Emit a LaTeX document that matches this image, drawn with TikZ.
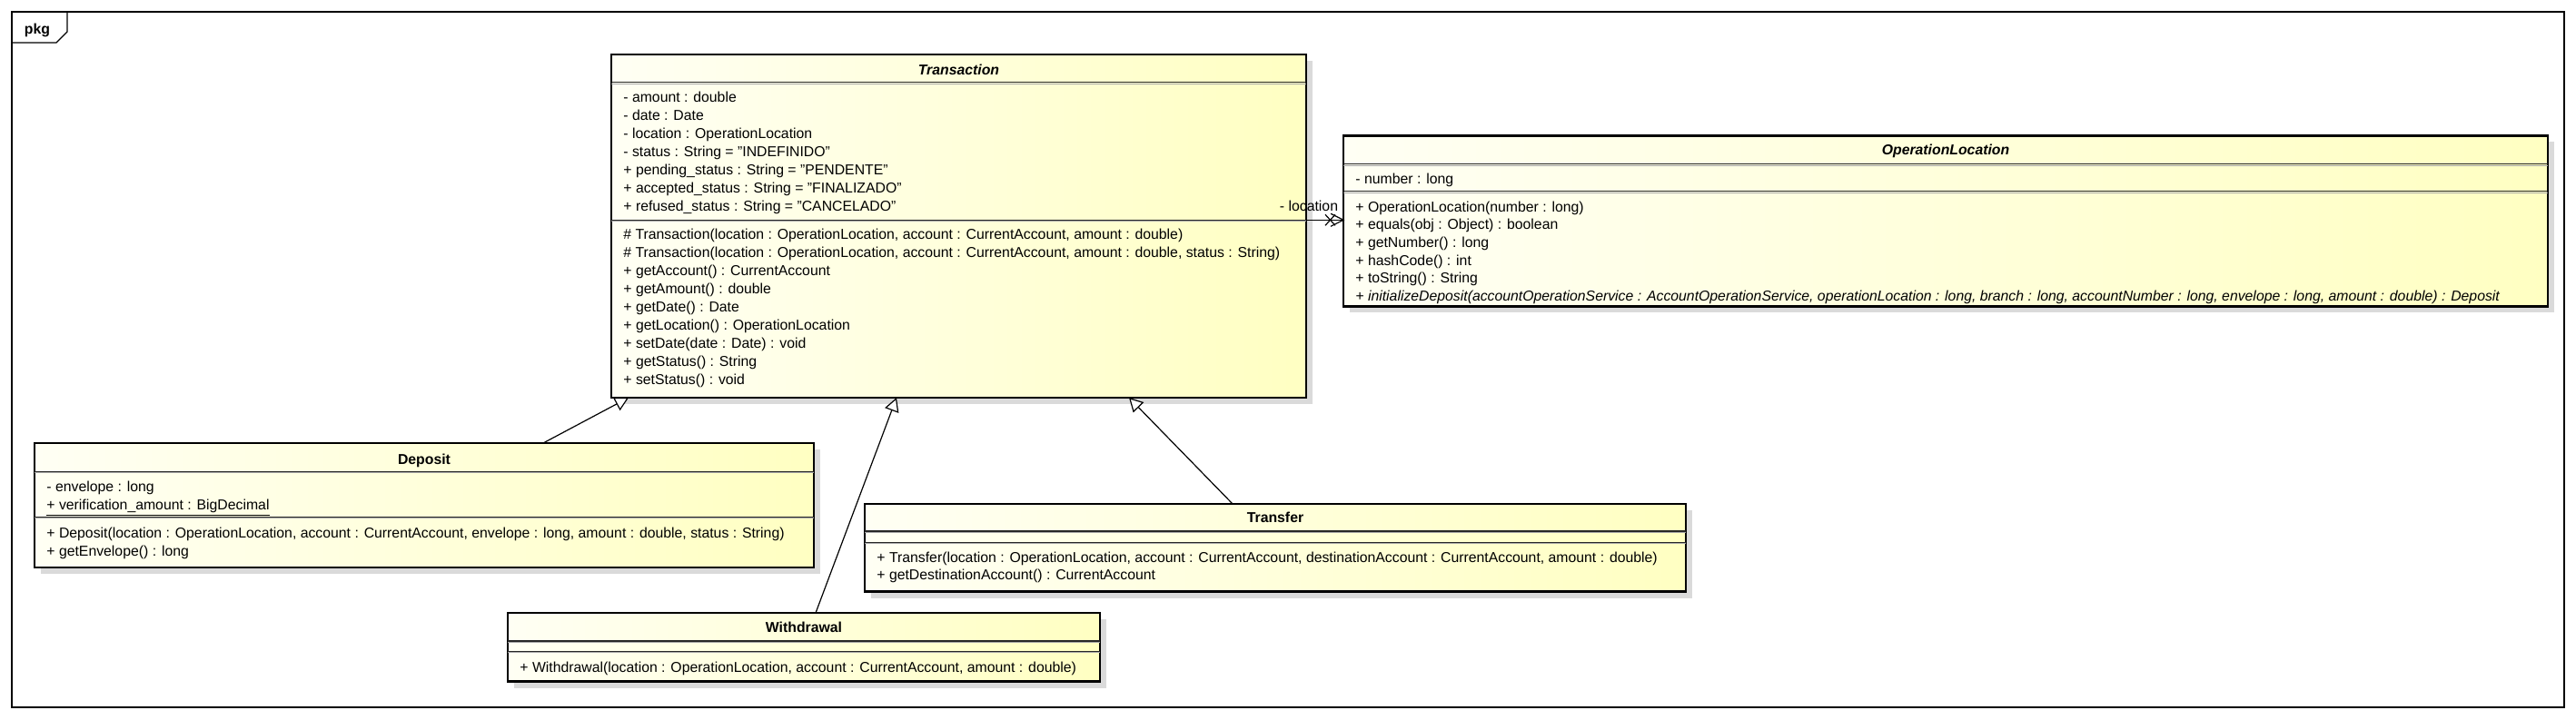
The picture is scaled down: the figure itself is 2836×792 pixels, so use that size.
\documentclass[tikz,border=0pt]{standalone}
\usepackage{fontspec}
\setmainfont{Liberation Sans}
\usetikzlibrary{arrows.meta,calc}
\definecolor{ylo}{HTML}{FFFFF4}
\definecolor{yhi}{HTML}{FFFFC2}
\definecolor{shd}{HTML}{DADADA}
\newcommand\memfont{\fontsize{7.9}{9}\selectfont}
\newcommand\umlcls[5]{%
  \fill[shd] ({#2+7},{#3+7}) rectangle ({#4+7},{#5+7});
  \node[classbox, minimum width={(#4-#2)*0.5pt}, minimum height={(#5-#3)*0.5pt}] (#1) at ({(#2+#4)/2},{(#3+#5)/2}) {};
}
\newcommand\umlsep[3]{%
  \draw[sepdark] (#1,#3) -- (#2,#3);
  \draw[seplight] (#1,{#3+1.6}) -- (#2,{#3+1.6});
}
\tikzset{
  classbox/.style={draw=black, line width=1.3pt, left color=ylo, right color=yhi, inner sep=0pt, outer sep=0pt},
  sepdark/.style={draw=black!85, line width=0.55pt},
  seplight/.style={draw=black!35, line width=0.5pt},
  mem/.style={anchor=base west, inner sep=0pt, font=\memfont},
  ttl/.style={anchor=base, inner sep=0pt, font=\memfont\bfseries},
  attl/.style={anchor=base, inner sep=0pt, font=\memfont\bfseries\itshape},
  gen/.style={draw=black, line width=0.6pt, -{Triangle[length=7.5pt, width=8pt, fill=white, line width=0.6pt]}},
  assoc/.style={draw=black, line width=0.6pt},
}
\begin{document}
\begin{tikzpicture}[x=0.5pt,y=-0.5pt]
\useasboundingbox (0,0) rectangle (2836,792);
% package frame
\draw[line width=0.6pt] (13,13) rectangle (2823,779);
\draw[line width=0.6pt] (13,47) -- (62,47) -- (74,35) -- (74,13);
\node[inner sep=0pt, font=\fontsize{7.9}{9}\selectfont\bfseries] (pkg) at (41,33) {pkg};

% ---------- Transaction
\umlcls{tr}{673}{60}{1438}{438}
\umlsep{673}{1438}{90.7}
\umlsep{673}{1438}{242.3}
\node[attl] (trt) at (1055.5,82.5) {Transaction};
\node[mem] (tra1) at (686,112.3) {- amount : double};
\node[mem] (tra2) at (686,132.3) {- date : Date};
\node[mem] (tra3) at (686,152.3) {- location : OperationLocation};
\node[mem] (tra4) at (686,172.3) {- status : String = "INDEFINIDO"};
\node[mem] (tra5) at (686,192.3) {+ pending\_status : String = "PENDENTE"};
\node[mem] (tra6) at (686,212.3) {+ accepted\_status : String = "FINALIZADO"};
\node[mem] (tra7) at (686,232.3) {+ refused\_status : String = "CANCELADO"};
\node[mem] (trm1) at (686,263.3) {\# Transaction(location : OperationLocation, account : CurrentAccount, amount : double)};
\node[mem] (trm2) at (686,283.3) {\# Transaction(location : OperationLocation, account : CurrentAccount, amount : double, status : String)};
\node[mem] (trm3) at (686,303.3) {+ getAccount() : CurrentAccount};
\node[mem] (trm4) at (686,323.3) {+ getAmount() : double};
\node[mem] (trm5) at (686,343.3) {+ getDate() : Date};
\node[mem] (trm6) at (686,363.3) {+ getLocation() : OperationLocation};
\node[mem] (trm7) at (686,383.3) {+ setDate(date : Date) : void};
\node[mem] (trm8) at (686,403.3) {+ getStatus() : String};
\node[mem] (trm9) at (686,423.3) {+ setStatus() : void};

% ---------- OperationLocation
\umlcls{ol}{1479}{149.3}{2805}{337.3}
\umlsep{1479}{2805}{180.7}
\umlsep{1479}{2805}{210.7}
\node[attl] (olt) at (2142,170.5) {OperationLocation};
\node[mem] (ola1) at (1492,202.3) {- number : long};
\node[mem] (olm1) at (1492,233) {+ OperationLocation(number : long)};
\node[mem] (olm2) at (1492,252.7) {+ equals(obj : Object) : boolean};
\node[mem] (olm3) at (1492,272.4) {+ getNumber() : long};
\node[mem] (olm4) at (1492,292.1) {+ hashCode() : int};
\node[mem] (olm5) at (1492,311.8) {+ toString() : String};
\node[mem, font=\memfont\itshape] (olm6) at (1492,331.5) {+ initializeDeposit(accountOperationService : AccountOperationService, operationLocation : long, branch : long, accountNumber : long, envelope : long, amount : double) : Deposit};

% ---------- Deposit
\umlcls{dep}{38}{488}{896}{625}
\umlsep{38}{896}{519.3}
\umlsep{38}{896}{569.3}
\node[ttl] (dept) at (467,511.5) {Deposit};
\node[mem] (depa1) at (51,541.5) {- envelope : long};
\node[mem] (depa2) at (51,561) {\underline{+ verification\_amount : BigDecimal}};
\node[mem] (depm1) at (51,592.5) {+ Deposit(location : OperationLocation, account : CurrentAccount, envelope : long, amount : double, status : String)};
\node[mem] (depm2) at (51,612) {+ getEnvelope() : long};

% ---------- Transfer
\umlcls{tf}{952}{555}{1856}{651.7}
\umlsep{952}{1856}{585}
\umlsep{952}{1856}{597.3}
\node[ttl] (tft) at (1404,575.5) {Transfer};
\node[mem] (tfm1) at (965,619.5) {+ Transfer(location : OperationLocation, account : CurrentAccount, destinationAccount : CurrentAccount, amount : double)};
\node[mem] (tfm2) at (965,638.5) {+ getDestinationAccount() : CurrentAccount};

% ---------- Withdrawal
\umlcls{wd}{559}{675}{1211}{750.7}
\umlsep{559}{1211}{706}
\umlsep{559}{1211}{717.3}
\node[ttl] (wdt) at (885,696.5) {Withdrawal};
\node[mem] (wdm1) at (572,740.7) {+ Withdrawal(location : OperationLocation, account : CurrentAccount, amount : double)};

% ---------- connectors
\coordinate (dep-top) at (598,488);
\coordinate (tr-b1) at (692,438);
\coordinate (wd-top) at (898,675);
\coordinate (tr-b2) at (987,438);
\coordinate (tf-top) at (1357,555);
\coordinate (tr-b3) at (1243,438);
\coordinate (tr-r) at (1438,242.3);
\coordinate (ol-l) at (1479,242.3);
\draw[gen] (dep-top) -- (tr-b1);
\draw[gen] (wd-top) -- (tr-b2);
\draw[gen] (tf-top) -- (tr-b3);
\draw[assoc] (tr-r) -- (ol-l);
\draw[assoc] ($(ol-l)+(-14,-7)$) -- (ol-l) -- ($(ol-l)+(-14,7)$);
\draw[assoc] ($(ol-l)+(-20,-6)$) -- ($(ol-l)+(-9,6)$);
\draw[assoc] ($(ol-l)+(-20,6)$) -- ($(ol-l)+(-9,-6)$);
\node[inner sep=0pt, font=\memfont] (lbl) at (1441,227) {- location};
\end{tikzpicture}
\end{document}
